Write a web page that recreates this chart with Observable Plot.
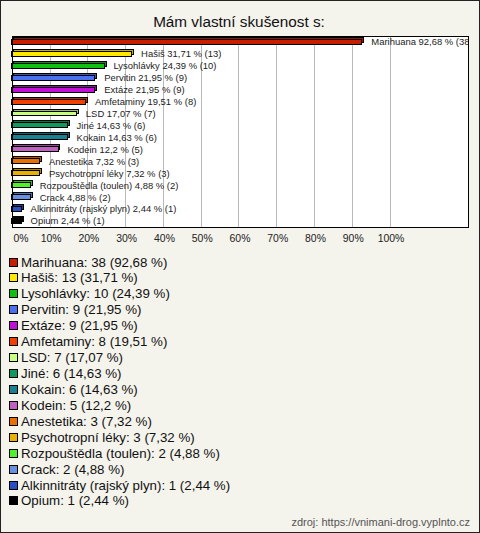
<!DOCTYPE html>
<html>
<head>
<meta charset="utf-8">
<script src="https://cdn.jsdelivr.net/npm/d3@7"></script>
<script src="https://cdn.jsdelivr.net/npm/@observablehq/plot@0.6"></script>
<style>
  html, body { margin: 0; padding: 0; background: #f4f3ec; }
  #wrap { position: relative; width: 480px; height: 533px; box-sizing: border-box; border: 1px solid #222; background: #f4f3ec; font-family: Arial, "Liberation Sans", sans-serif; overflow: hidden; }
  #title { position: absolute; left: 0; width: 476px; top: 12px; text-align: center; font-size: 15.3px; color: #111; }
  #chart { position: absolute; left: -1px; top: 34px; }
  .lg { position: absolute; left: 8px; height: 16px; display: flex; align-items: center; font-size: 13.3px; color: #111; white-space: nowrap; }
  .sw { width: 7px; height: 7px; border: 1px solid #000; margin-right: 3px; flex: none; }
  #foot { position: absolute; right: 9px; top: 515px; font-size: 11px; color: #555; }
</style>
</head>
<body>
<div id="wrap">
  <div id="title">Mám vlastní skušenost s:</div>
  <div id="chart"></div>
  <div id="legend"></div>
  <div id="foot">zdroj: https://vnimani-drog.vyplnto.cz</div>
</div>
<script>
const categories = ["Marihuana", "Hašiš", "Lysohlávky", "Pervitin", "Extáze", "Amfetaminy", "LSD", "Jiné", "Kokain", "Kodein", "Anestetika", "Psychotropní léky", "Rozpouštědla (toulen)", "Crack", "Alkinnitráty (rajský plyn)", "Opium"];
const counts = [38, 13, 10, 9, 9, 8, 7, 6, 6, 5, 3, 3, 2, 2, 1, 1];
const percents = [92.68, 31.71, 24.39, 21.95, 21.95, 19.51, 17.07, 14.63, 14.63, 12.2, 7.32, 7.32, 4.88, 4.88, 2.44, 2.44];
const colors = ["#c81e00", "#ffe800", "#10c010", "#4a70f0", "#c010d8", "#f04000", "#c8ff80", "#109860", "#188090", "#c060c0", "#e87000", "#e8b000", "#50f030", "#6890e0", "#2850c0", "#000000"];
const tickValues = [0, 10, 20, 30, 40, 50, 60, 70, 80, 90, 100];
const xMax = 120.8;

const fmt = p => String(p).replace(".", ",");
const data = categories.map((c, i) => ({cat: c, count: counts[i], pct: percents[i], color: colors[i]}));

const chart = Plot.plot({
  width: 482,
  height: 216,
  marginLeft: 12,
  marginRight: 11,
  marginTop: 1,
  marginBottom: 23,
  style: {background: "transparent", fontFamily: "Arial, 'Liberation Sans', sans-serif", overflow: "visible"},
  x: {domain: [0, xMax], axis: null},
  y: {domain: categories, axis: null, padding: 0},
  marks: [
    Plot.frame({fill: "white"}),
    Plot.ruleX(tickValues, {stroke: "#b8b8b8", shapeRendering: "crispEdges"}),
    Plot.barX(data, {x: "pct", y: "cat", fill: d => d3.color(d.color).darker(0.8).formatHex(), stroke: "#000", strokeWidth: 1, insetTop: 2.5, insetBottom: 4.5, dx: 2, dy: -1, shapeRendering: "crispEdges"}),
    Plot.barX(data, {x: "pct", y: "cat", fill: "color", stroke: "#000", strokeWidth: 1, insetTop: 3.5, insetBottom: 3.5, shapeRendering: "crispEdges"}),
    Plot.text(data, {x: "pct", y: "cat", text: d => `${d.cat} ${fmt(d.pct)} % (${d.count})`, textAnchor: "start", dx: 9, fontSize: 9.5, fill: "#222", clip: true}),
    Plot.frame({stroke: "#000", shapeRendering: "crispEdges"}),
    Plot.text(tickValues.filter(d => d === 0), {x: d => d, text: d => d + "%", frameAnchor: "bottom", textAnchor: "start", dy: 11, dx: 1, lineAnchor: "middle", fontSize: 10.5, fill: "#222"}),
    Plot.text(tickValues.filter(d => d !== 0), {x: d => d, text: d => d + "%", frameAnchor: "bottom", dy: 11, dx: 1, lineAnchor: "middle", fontSize: 10.5, fill: "#222"})
  ]
});
document.getElementById("chart").appendChild(chart);

const legend = document.getElementById("legend");
categories.forEach((c, i) => {
  const row = document.createElement("div");
  row.className = "lg";
  row.style.top = (253 + i * 15.93) + "px";
  const sw = document.createElement("div");
  sw.className = "sw";
  sw.style.background = colors[i];
  row.appendChild(sw);
  const t = document.createElement("span");
  t.textContent = `${c}: ${counts[i]} (${fmt(percents[i])} %)`;
  row.appendChild(t);
  legend.appendChild(row);
});
</script>
</body>
</html>
